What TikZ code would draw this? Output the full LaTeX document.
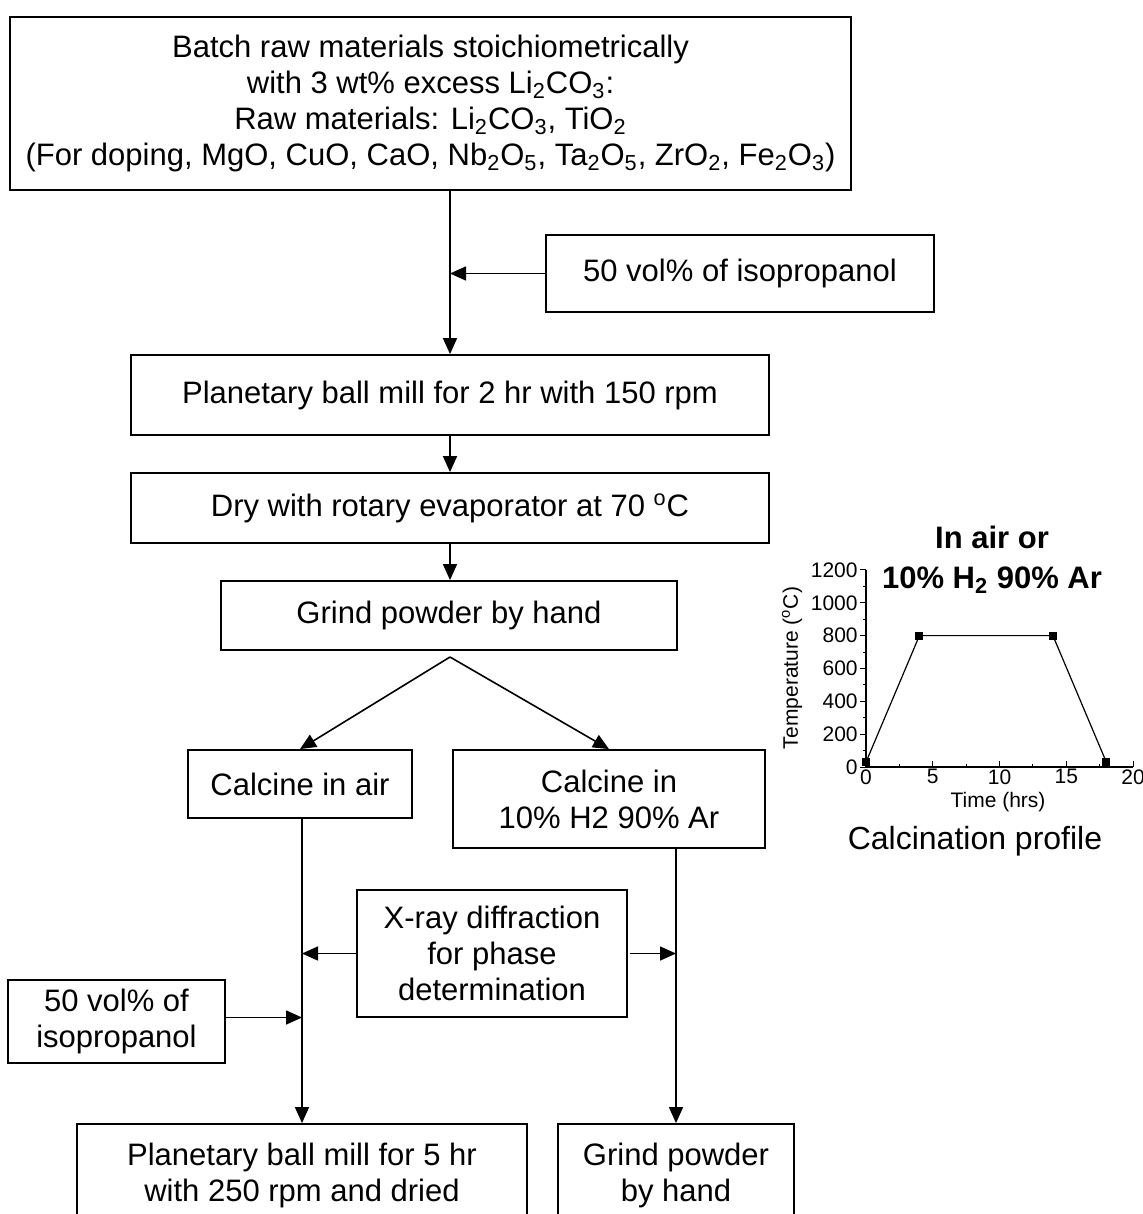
\documentclass[tikz,border=0pt]{standalone}
\usepackage{fontspec}
\setmainfont{Liberation Sans}
\usetikzlibrary{arrows.meta}

\tikzset{
  stepbox/.style  = {draw, line width=0.9pt, align=center, inner sep=0pt,
                     font=\fontsize{15.5}{18}\selectfont},
  flow/.style     = {draw, line width=0.8pt, -{Triangle[length=8pt,width=7pt]}},
  tick/.style     = {line width=0.5pt},
  ticklabel/.style= {font=\fontsize{10.5}{11}\selectfont, inner sep=1pt}
}

\begin{document}
\begin{tikzpicture}
[
x=0.5pt, y=-0.5pt
  ]
\fill[white] (0,0) rectangle (1143,1214);
\useasboundingbox (0,0) rectangle (1143,1214);

% flow chart
\node[stepbox, minimum width=420.5pt, minimum height=86.5pt] (batch) at (430.5,103.5)
  {Batch raw materials stoichiometrically\\
   with 3 wt\% excess Li\textsubscript{2}CO\textsubscript{3}:\\
   Raw materials: Li\textsubscript{2}CO\textsubscript{3}, TiO\textsubscript{2}\\
   (For doping, MgO, CuO, CaO, Nb\textsubscript{2}O\textsubscript{5}, Ta\textsubscript{2}O\textsubscript{5}, ZrO\textsubscript{2}, Fe\textsubscript{2}O\textsubscript{3})};
\node[stepbox, minimum width=194pt, minimum height=38.5pt] (ipa) at (740,273.5) {50 vol\% of isopropanol};
\node[stepbox, minimum width=319pt, minimum height=40pt] (mill) at (450,395) {Planetary ball mill for 2 hr with 150 rpm};
\node[stepbox, minimum width=319pt, minimum height=35pt] (dry) at (450,508) {Dry with rotary evaporator at 70 \textsuperscript{o}C};
\node[stepbox, minimum width=228pt, minimum height=34.5pt] (grind) at (449,615.5) {Grind powder by hand};
\coordinate (split) at (450,657);
\node[stepbox, minimum width=112pt, minimum height=34pt] (air) at (300,784) {Calcine in air};
\node[stepbox, minimum width=156pt, minimum height=49pt] (hyd) at (609,799) {Calcine in\\10\% H2 90\% Ar};
\node[stepbox, minimum width=135pt, minimum height=63.5pt] (xrd) at (492,953.5) {X-ray diffraction\\for phase\\determination};
\node[stepbox, minimum width=108.5pt, minimum height=41.5pt] (ipb) at (116.5,1021.5) {50 vol\% of\\isopropanol};
\node[stepbox, minimum width=225pt, minimum height=51pt] (millb) at (302,1175) {Planetary ball mill for 5 hr\\with 250 rpm and dried};
\node[stepbox, minimum width=118pt, minimum height=51pt] (grindb) at (676,1175) {Grind powder\\by hand};

\draw[flow] (batch.south -| mill.north) -- (mill.north);
\draw[flow] (ipa.west) -- (ipa.west -| mill.north);
\draw[flow] (mill) -- (dry);
\draw[flow] (dry) -- (dry.south |- grind.north);
\draw[flow] (split) -- (air.north);
\draw[flow] (split) -- (hyd.north);
\draw[flow] (air.south -| millb.north) -- (millb.north);
\draw[flow] (hyd.south -| grindb.north) -- (grindb.north);
\draw[flow] (xrd.west) -- (xrd.west -| millb.north);
\draw[flow] ([xshift=1pt]xrd.east) -- (xrd.east -| grindb.north);
\draw[flow] ([yshift=2pt]ipb.east) -- ([yshift=2pt]ipb.east -| millb.north);

% calcination profile
\node[font=\fontsize{15.5}{20}\selectfont\bfseries, align=center] (title) at (992,560)
  {In air or\\10\% H\textsubscript{2} 90\% Ar};
\node[font=\fontsize{10.5}{11}\selectfont, rotate=90] (ylab) at (792,668) {Temperature (\textsuperscript{o}C)};
\node[font=\fontsize{10.5}{11}\selectfont] (xlab) at (998,802) {Time (hrs)};
\node[font=\fontsize{16}{18}\selectfont] (cap) at (975,841) {Calcination profile};
\begin{scope}[shift={(433pt,-383.5pt)}, x=6.675pt, y=0.0821pt]
  \draw[line width=0.6pt] (0,1200) -- (0,0) -- (20,0);
  \foreach \T in {0,200,...,1200} {
    \draw[tick] (0,\T) -- ++(-3pt,0);
    \node[ticklabel, anchor=east] at ([xshift=-3pt]0,\T) {\T};
  }
  \foreach \T in {100,300,...,1100}
    \draw[tick] (0,\T) -- ++(-1.5pt,0);
  \foreach \t in {0,5,...,20} {
    \draw[tick] (\t,0) -- ++(0,3pt);
    \node[ticklabel, anchor=north] at (\t,0) {\t};
  }
  \foreach \t in {2.5,7.5,12.5,17.5}
    \draw[tick] (\t,0) -- ++(0,1.5pt);
  \draw[line width=0.6pt] (0,30) -- (4,800) -- (14,800) -- (18,30);
  \foreach \p in {(0,30),(4,800),(14,800),(18,30)}
    \fill \p +(-2pt,-2pt) rectangle +(2pt,2pt);
\end{scope}
\end{tikzpicture}
\end{document}
